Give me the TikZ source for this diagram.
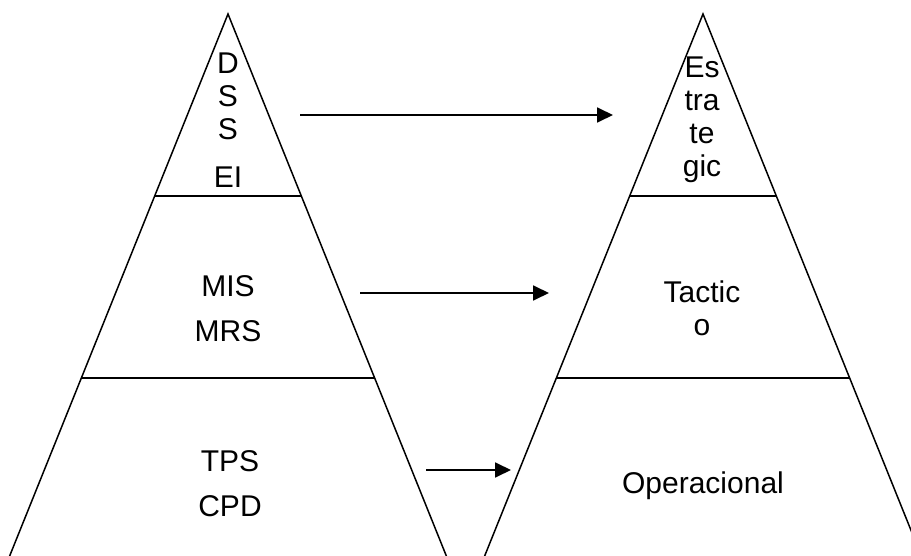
\documentclass[tikz,border=0pt]{standalone}
\usepackage{fontspec}
\setmainfont{Liberation Sans}
\usepackage{tikz}
\usetikzlibrary{arrows.meta,positioning,calc}

\begin{document}
\begin{tikzpicture}[
    x=1pt, y=-1pt,
    edge/.style={line width=1.5pt, line join=miter},
    arrow/.style={-{Triangle[length=16pt, width=15pt]}, line width=1.8pt},
    lbl/.style={font=\fontsize{30}{33}\selectfont, align=center, inner sep=0pt}
]
    \useasboundingbox (0,0) rectangle (911,556);
    \clip (0,0) rectangle (911,556);

    % Pyramids (systems left, levels right)
    \foreach \sx in {0,475} {
        \begin{scope}[xshift=\sx pt]
            \draw[edge] (4,570) -- (228,14) -- (452,570);
            \draw[edge] (154.7,196) -- (301.3,196);
            \draw[edge] (81.3,378) -- (374.7,378);
        \end{scope}
    }

    % Labels
    \node[lbl] (dss) at (228,119.75) {D\\S\\S\\[15pt]EI};
    \node[lbl] (mis) at (228,308.5) {MIS\\[12pt]MRS};
    \node[lbl] (tps) at (230,483.5) {TPS\\[12pt]CPD};
    \node[lbl] (estr) at (702,120) {Es\\tra\\te\\gic};
    \node[lbl] (tact) at (702,308) {Tactic\\o};
    \node[lbl, anchor=base] (oper) at (703,493) {Operacional};

    % Arrows between the levels
    \coordinate (t1) at (300,115);
    \coordinate (h1) at (613,115);
    \coordinate (t2) at (360,293);
    \coordinate (h2) at (549,293);
    \coordinate (t3) at (426,470);
    \coordinate (h3) at (511,470);
    \foreach \i in {1,2,3}
        \draw[arrow] (t\i) -- (h\i);
\end{tikzpicture}
\end{document}
